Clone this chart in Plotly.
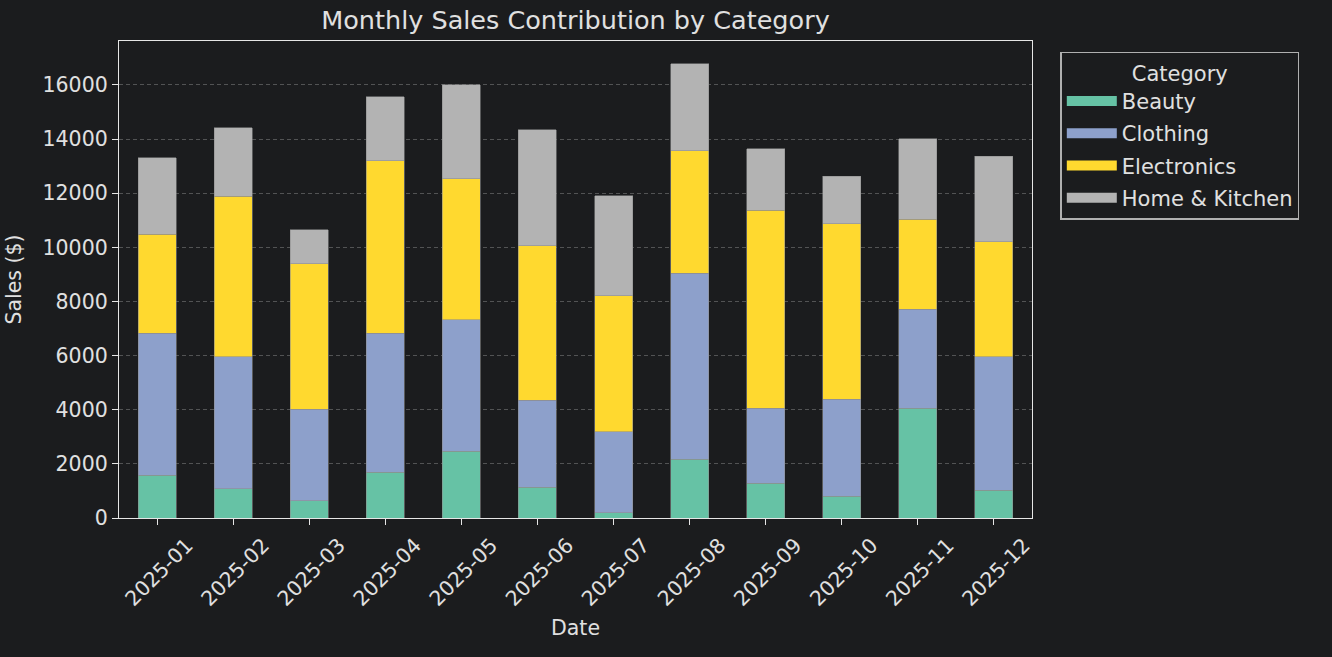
import plotly.graph_objects as go

months = ["2025-01", "2025-02", "2025-03", "2025-04", "2025-05", "2025-06",
          "2025-07", "2025-08", "2025-09", "2025-10", "2025-11", "2025-12"]
categories = ["Beauty", "Clothing", "Electronics", "Home & Kitchen"]

beauty = [1580, 1090, 635, 1692, 2467, 1139, 193, 2172, 1287, 807, 4064, 1029]
clothing = [5250, 4867, 3380, 5138, 4866, 3208, 2986, 6870, 2777, 3589, 3650, 4928]
electronics = [3660, 5924, 5371, 6378, 5199, 5703, 5039, 4535, 7301, 6477, 3319, 4252]
home_kitchen = [2814, 2532, 1266, 2360, 3478, 4301, 3687, 3207, 2273, 1757, 2986, 3147]

y_ticks = [0, 2000, 4000, 6000, 8000, 10000, 12000, 14000, 16000]

series = [beauty, clothing, electronics, home_kitchen]
colors = ["#66c2a5", "#8da0cb", "#ffd92f", "#b3b3b3"]

BG = "#1b1c1e"
FG = "#e0e0e0"
FONT = "DejaVu Sans"

fig = go.Figure()
for name, vals, col in zip(categories, series, colors):
    fig.add_trace(go.Bar(
        x=months, y=vals, name=name, legendgroup=name, showlegend=False,
        marker=dict(color=col, line=dict(color="rgba(140,140,140,0.8)", width=0.7)),
    ))
# legend swatches (wide rectangles like the reference)
for name, col in zip(categories, colors):
    fig.add_trace(go.Scatter(
        x=[None], y=[None], mode="lines", name=name, legendgroup=name,
        line=dict(color=col, width=15),
    ))

fig.update_layout(
    width=1332, height=657,
    paper_bgcolor=BG, plot_bgcolor=BG,
    barmode="stack", bargap=0.5,
    margin=dict(l=119, r=300, t=41, b=139),
    font=dict(family=FONT, color=FG, size=20),
    title=dict(text="Monthly Sales Contribution by Category",
               x=0.5, xref="paper", xanchor="center",
               y=1 - 20 / 657, yref="container", yanchor="middle",
               font=dict(size=25.5, color=FG, family=FONT)),
    legend=dict(
        title=dict(text="Category", side="top center", font=dict(size=21, color=FG)),
        font=dict(size=21, color=FG),
        x=1.031, xanchor="left", y=0.977, yanchor="top",
        bgcolor=BG, bordercolor="#b0b0b0", borderwidth=1.5,
        itemwidth=50, tracegroupgap=2,
    ),
)

fig.update_xaxes(
    type="category", range=[-0.5, 11.5],
    showline=True, mirror=True, linecolor="#e6e6e6", linewidth=1.3,
    ticks="outside", ticklen=6, tickwidth=1.3, tickcolor="#e6e6e6",
    tickangle=-45, ticklabelshift=30,
    tickfont=dict(size=20.5, color=FG),
    showgrid=False,
    title=dict(text="Date", font=dict(size=20.5, color=FG), standoff=10),
)
fig.update_yaxes(
    range=[0, 17623], tickvals=y_ticks, ticktext=[str(v) for v in y_ticks],
    showline=True, mirror=True, linecolor="#e6e6e6", linewidth=1.3,
    ticks="outside", ticklen=6, tickwidth=1.3, tickcolor="#e6e6e6",
    tickfont=dict(size=20.5, color=FG),
    showgrid=True, gridcolor="rgba(150,150,150,0.45)", gridwidth=0.8, griddash="4px,3px",
    zeroline=False,
    title=dict(text="Sales ($)", font=dict(size=20.5, color=FG)),
)

fig.write_html(
    "out.html",
    config={"displayModeBar": False},
    post_script="document.body.style.margin='0';document.body.style.background='#1b1c1e';",
)
